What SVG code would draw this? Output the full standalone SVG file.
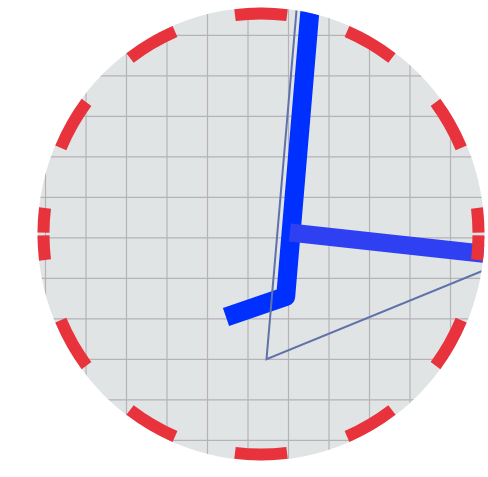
<svg xmlns="http://www.w3.org/2000/svg" width="488" height="477" viewBox="0 0 488 477">
  <style>
    .grid line { stroke: #b6b2b8; stroke-width: 1.2; }
    .dash { fill: none; stroke: #e8323c; stroke-width: 12; stroke-dasharray: 0 1.2 21.6 54.4 45.6 54.4 45.6 54.4 45.6 54.4 45.6 54.4 45.6 54.4 21.6 1.2; }
  </style>
  <defs>
    <clipPath id="face">
      <ellipse cx="261" cy="234" rx="223.5" ry="226.5"/>
    </clipPath>
  </defs>
  <rect width="488" height="477" fill="#ffffff"/>
  <ellipse id="dial" cx="261" cy="234" rx="223.5" ry="226.5" fill="#e0e4e5"/>
  <g id="grid" class="grid" clip-path="url(#face)">
    <line x1="45.5" y1="0" x2="45.5" y2="477"/>
    <line x1="86" y1="0" x2="86" y2="477"/>
    <line x1="126.5" y1="0" x2="126.5" y2="477"/>
    <line x1="167" y1="0" x2="167" y2="477"/>
    <line x1="207.5" y1="0" x2="207.5" y2="477"/>
    <line x1="248" y1="0" x2="248" y2="477"/>
    <line x1="288.5" y1="0" x2="288.5" y2="477"/>
    <line x1="329" y1="0" x2="329" y2="477"/>
    <line x1="369.5" y1="0" x2="369.5" y2="477"/>
    <line x1="410" y1="0" x2="410" y2="477"/>
    <line x1="450.5" y1="0" x2="450.5" y2="477"/>
    <line x1="0" y1="35.3" x2="488" y2="35.3"/>
    <line x1="0" y1="75.8" x2="488" y2="75.8"/>
    <line x1="0" y1="116.3" x2="488" y2="116.3"/>
    <line x1="0" y1="156.8" x2="488" y2="156.8"/>
    <line x1="0" y1="197.3" x2="488" y2="197.3"/>
    <line x1="0" y1="237.8" x2="488" y2="237.8"/>
    <line x1="0" y1="278.3" x2="488" y2="278.3"/>
    <line x1="0" y1="318.8" x2="488" y2="318.8"/>
    <line x1="0" y1="359.3" x2="488" y2="359.3"/>
    <line x1="0" y1="399.8" x2="488" y2="399.8"/>
    <line x1="0" y1="440.3" x2="488" y2="440.3"/>
  </g>
  <g id="hands" clip-path="url(#face)">
    <path id="hand-dark" d="M310.8 0 L285.7 296.4 L226 317" fill="none" stroke="#0030ff" stroke-width="19" stroke-linejoin="round"/>
    <path id="hand-light" d="M289.8 232.5 L495 255" fill="none" stroke="#2f3ff2" stroke-width="18"/>
    <path id="thin-line" d="M297.4 0 L266.5 359.3 L495 265.8" fill="none" stroke="#6072a8" stroke-width="2" stroke-linejoin="miter"/>
  </g>
  <g id="rim">
    <path class="dash" pathLength="600" d="M43.5 234 A217.5 220.5 0 0 1 478.5 234"/>
    <path class="dash" pathLength="600" d="M478.5 234 A217.5 220.5 0 0 1 43.5 234"/>
  </g>
</svg>
